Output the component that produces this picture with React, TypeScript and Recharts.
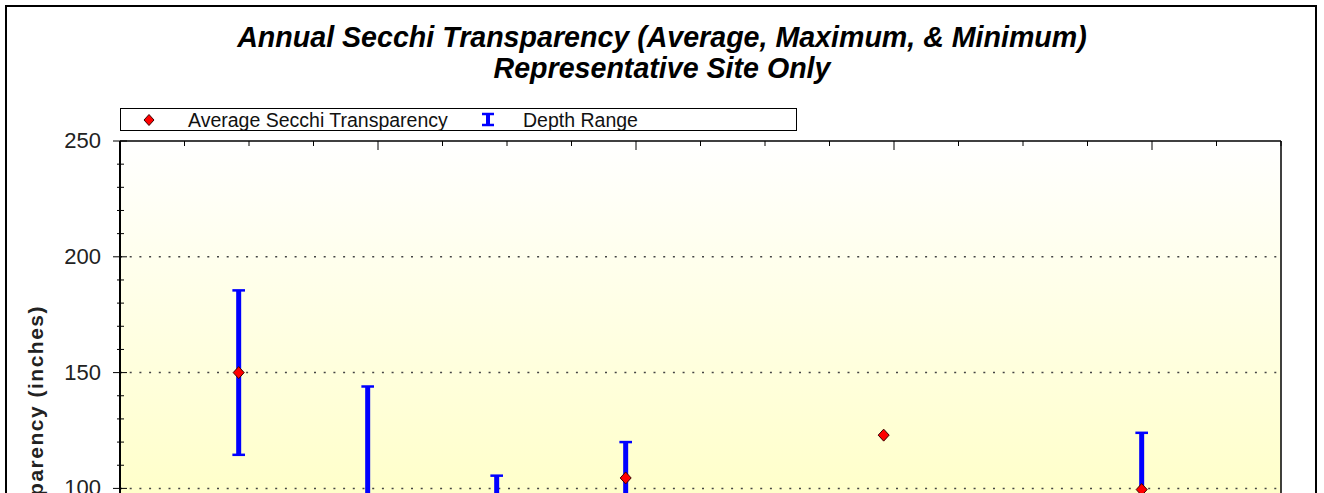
import {
  Legend,
  XAxis,
  YAxis,
  Scatter,
  ErrorBar,
  CartesianGrid,
  ReferenceLine,
  ComposedChart,
} from 'recharts';

// ----------------------------------------------------------------------

const sampleYears = [2000.92, 2001.92, 2002.92, 2003.92, 2005.92, 2007.92];
const avgTransparency = [150, 92, 84, 104.5, 123, 99.5];
const maxTransparency = [185.5, 144, 105.5, 120, null, 124];
const minTransparency = [114.5, 60, 66, 88, null, 74];

const yTicks = [0, 10, 20, 30, 40, 50, 60, 70, 80, 90, 100, 110, 120, 130, 140, 150, 160, 170, 180, 190, 200, 210, 220, 230, 240, 250];
const gridValues = [50, 100, 150, 200];
const xTicks = [2000, 2000.5, 2001, 2001.5, 2002, 2002.5, 2003, 2003.5, 2004, 2004.5, 2005, 2005.5, 2006, 2006.5, 2007, 2007.5, 2008, 2008.5, 2009];
const xLabelTicks = [2000, 2002, 2004, 2006, 2008];

const FONT = '"Liberation Sans", Arial, sans-serif';
const PLOT_LEFT = 120;
const PLOT_RIGHT = 1281;
const PLOT_TOP = 141;

const points = sampleYears.map((x, i) => ({
  x,
  avg: avgTransparency[i],
  max: maxTransparency[i],
  min: minTransparency[i],
}));

const rangeError = (d: any) => (d.max == null || d.min == null ? null : [d.avg - d.min, d.max - d.avg]);

const Diamond = (props: any) => {
  const { cx, cy } = props;
  return (
    <polygon
      fill='#FF0000'
      points={`${cx},${cy - 6} ${cx + 5.5},${cy} ${cx},${cy + 6} ${cx - 5.5},${cy}`}
      stroke='#3a0000'
      strokeWidth={1}
    />
  );
};

const LeftTick = (props: any) => {
  const { y, payload } = props;
  const major = payload.value % 50 === 0;
  return (
    <g>
      <line stroke='#000' x1={major ? 113 : 117} x2={major ? 127 : 124} y1={y} y2={y} />
      {major && (
        <text fill='#222' fontFamily={FONT} fontSize={22} textAnchor='end' x={101} y={y + 7}>
          {payload.value}
        </text>
      )}
    </g>
  );
};

const RightTick = (props: any) => {
  const { y, payload } = props;
  const major = payload.value % 50 === 0;
  return <line stroke='#000' x1={PLOT_RIGHT - (major ? 8 : 4)} x2={PLOT_RIGHT} y1={y} y2={y} />;
};

const TopTick = (props: any) => {
  const { x, payload } = props;
  const major = xLabelTicks.includes(payload.value);
  return <line stroke='#000' x1={x} x2={x} y1={PLOT_TOP} y2={PLOT_TOP + (major ? 9 : 5)} />;
};

const YLabel = () => (
  <text
    fill='#222'
    fontFamily={FONT}
    fontSize={21}
    fontWeight='bold'
    letterSpacing={1.5}
    textAnchor='end'
    transform='rotate(-90, 42.5, 305)'
    x={42.5}
    y={305}
  >
    Secchi Transparency (inches)
  </text>
);

const LegendContent = () => (
  <div style={{ background: '#fff', border: '1px solid #000', boxSizing: 'border-box', height: 23, width: 677 }}>
    <svg height={21} style={{ display: 'block' }} width={675}>
      <polygon fill='#FF0000' points='28,5.5 33,11 28,16.5 23,11' stroke='#3a0000' strokeWidth={1} />
      <text fill='#111' fontFamily={FONT} fontSize={19.5} x={67} y={18}>
        Average Secchi Transparency
      </text>
      <line stroke='#0000FF' strokeWidth={2.5} x1={361} x2={373} y1={5} y2={5} />
      <line stroke='#0000FF' strokeWidth={4} x1={367} x2={367} y1={5} y2={16} />
      <line stroke='#0000FF' strokeWidth={2.5} x1={361} x2={373} y1={16} y2={16} />
      <text fill='#111' fontFamily={FONT} fontSize={19.5} x={402} y={18}>
        Depth Range
      </text>
    </svg>
  </div>
);

export default function App() {
  return (
    <div style={{ background: '#fff', height: 493, left: 0, overflow: 'hidden', position: 'absolute', top: 0, width: 1324 }}>
      <div
        style={{
          border: '2px solid #000',
          boxSizing: 'border-box',
          height: 900,
          left: 5,
          position: 'absolute',
          top: 5,
          width: 1312,
        }}
      />
      <div
        style={{
          color: '#000',
          fontFamily: FONT,
          fontSize: 28.6,
          fontStyle: 'italic',
          fontWeight: 'bold',
          left: 0,
          lineHeight: '31px',
          position: 'absolute',
          textAlign: 'center',
          top: 22,
          width: 1324,
        }}
      >
        <div>Annual Secchi Transparency (Average, Maximum, &amp; Minimum)</div>
        <div>Representative Site Only</div>
      </div>
      <div style={{ left: 0, position: 'absolute', top: 0 }}>
        <ComposedChart
          data={points}
          height={800}
          margin={{ bottom: 50, left: 0, right: 33, top: 131 }}
          style={{ fontFamily: FONT }}
          width={1324}
        >
          <defs>
            <linearGradient id='plotBg' x1='0' x2='0' y1='0' y2='1'>
              <stop offset='0%' stopColor='#FFFFFF' />
              <stop offset='100%' stopColor='#FFFFA8' />
            </linearGradient>
          </defs>
          <CartesianGrid fill='url(#plotBg)' horizontal={false} vertical={false} xAxisId='bottom' yAxisId='left' />
          <XAxis
            axisLine={{ stroke: '#000', strokeWidth: 1.5 }}
            dataKey='x'
            domain={[2000, 2009]}
            height={30}
            interval={0}
            tick={{ fill: '#222', fontSize: 18 }}
            ticks={xLabelTicks}
            type='number'
            xAxisId='bottom'
          />
          <XAxis
            axisLine={{ stroke: '#000', strokeWidth: 1.5 }}
            dataKey='x'
            domain={[2000, 2009]}
            height={10}
            interval={0}
            orientation='top'
            tick={TopTick}
            tickLine={false}
            ticks={xTicks}
            type='number'
            xAxisId='top'
          />
          <YAxis
            axisLine={{ stroke: '#000', strokeWidth: 2 }}
            domain={[0, 250]}
            interval={0}
            label={<YLabel />}
            tick={LeftTick}
            tickLine={false}
            ticks={yTicks}
            type='number'
            width={PLOT_LEFT}
            yAxisId='left'
          />
          <YAxis
            axisLine={{ stroke: '#000', strokeWidth: 1.5 }}
            domain={[0, 250]}
            interval={0}
            orientation='right'
            tick={RightTick}
            tickLine={false}
            ticks={yTicks}
            type='number'
            width={10}
            yAxisId='right'
          />
          {gridValues.map(v => (
            <ReferenceLine
              key={v}
              stroke='#444'
              strokeDasharray='2 7.7'
              strokeWidth={1.5}
              xAxisId='bottom'
              y={v}
              yAxisId='left'
            />
          ))}
          <Legend
            align='center'
            content={LegendContent}
            layout='horizontal'
            verticalAlign='middle'
            wrapperStyle={{ height: 23, left: 120, position: 'absolute', top: 108, width: 677 }}
          />
          <Scatter
            dataKey='avg'
            isAnimationActive={false}
            name='Average Secchi Transparency'
            shape={Diamond}
            xAxisId='bottom'
            yAxisId='left'
          >
            <ErrorBar dataKey={rangeError} direction='y' isAnimationActive={false} stroke='#0000FF' strokeWidth={5} width={0} />
            <ErrorBar dataKey={rangeError} direction='y' isAnimationActive={false} stroke='#0000FF' strokeWidth={2.5} width={6.3} />
          </Scatter>
        </ComposedChart>
      </div>
    </div>
  );
}
